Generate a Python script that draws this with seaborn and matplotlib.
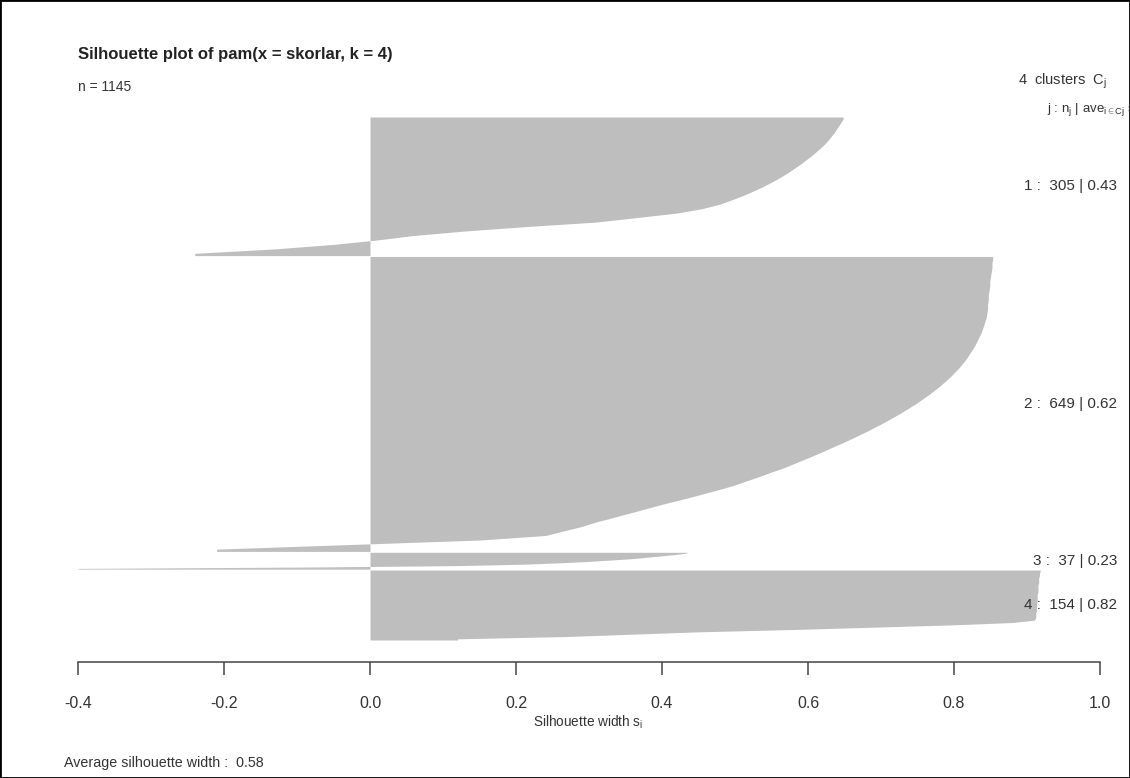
import numpy as np
import pandas as pd
import matplotlib
matplotlib.use("Agg")
import matplotlib.pyplot as plt
import matplotlib.transforms as mtransforms
from matplotlib.patches import Rectangle
import seaborn as sns

W, H = 1130, 778

cluster_ids = [1, 2, 3, 4]
cluster_sizes = [305, 649, 37, 154]
cluster_avg = [0.43, 0.62, 0.23, 0.82]
n_obs = 1145
avg_width = 0.58
x_ticks = [-0.4, -0.2, 0.0, 0.2, 0.4, 0.6, 0.8, 1.0]

c1_sil = [0.648, 0.644, 0.640, 0.636, 0.631, 0.626, 0.620, 0.613, 0.606, 0.598,
          0.590, 0.581, 0.572, 0.562, 0.551, 0.539, 0.526, 0.512, 0.496, 0.479,
          0.455, 0.420, 0.365, 0.310, 0.215, 0.130, 0.060, 0.010, -0.050, -0.130,
          -0.240]
c2_sil = [0.853, 0.852, 0.852, 0.851, 0.850, 0.849, 0.849, 0.848, 0.847, 0.847,
          0.846, 0.846, 0.845, 0.844, 0.842, 0.840, 0.838, 0.835, 0.832, 0.829,
          0.825, 0.821, 0.817, 0.812, 0.807, 0.801, 0.795, 0.788, 0.781, 0.773,
          0.765, 0.756, 0.747, 0.737, 0.727, 0.716, 0.705, 0.693, 0.681, 0.668,
          0.655, 0.641, 0.627, 0.613, 0.598, 0.583, 0.568, 0.550, 0.533, 0.515,
          0.497, 0.475, 0.452, 0.428, 0.403, 0.380, 0.357, 0.334, 0.310, 0.290,
          0.265, 0.240, 0.150, -0.030, -0.210]
c3_sil = [0.434, 0.420, 0.400, 0.380, 0.360, 0.330, 0.300, 0.260, 0.210, 0.120,
          -0.080, -0.400]
c4_sil = [0.918, 0.917, 0.917, 0.916, 0.916, 0.916, 0.915, 0.915, 0.915, 0.915,
          0.914, 0.914, 0.914, 0.914, 0.913, 0.913, 0.913, 0.913, 0.912, 0.912,
          0.912, 0.910, 0.880, 0.800, 0.690, 0.580, 0.450, 0.360, 0.270, 0.120]

sns.set_theme(style="white")
plt.rcParams["font.family"] = ["Liberation Sans", "DejaVu Sans"]
plt.rcParams["mathtext.fontset"] = "custom"
plt.rcParams["mathtext.rm"] = "Liberation Sans"
plt.rcParams["mathtext.it"] = "Liberation Sans:italic"

GAP = 2
rows = []
spans = []
pos = 0.0
for cid, size, sil in zip(cluster_ids, cluster_sizes, [c1_sil, c2_sil, c3_sil, c4_sil]):
    step = size / len(sil)
    for k, s in enumerate(sil):
        rows.append({"cluster": cid, "y": pos + (k + 0.5) * step, "s": s})
    spans.append((pos, pos + size))
    pos += size + GAP
total = pos - GAP
df = pd.DataFrame(rows)

fig = plt.figure(figsize=(W / 100, H / 100), dpi=100)
ax = fig.add_axes([78 / W, 1 - 640 / H, (1100 - 78) / W, (640 - 117) / H])

bar_grey = "#bebebe"
for (cid, grp), (y0, y1) in zip(df.groupby("cluster", sort=True), spans):
    yy = np.concatenate([[y0], grp["y"].to_numpy(), [y1]])
    ss = np.concatenate([[grp["s"].iloc[0]], grp["s"].to_numpy(), [grp["s"].iloc[-1]]])
    ax.fill_betweenx(yy, 0, ss, color=bar_grey, linewidth=0)
ax.set_xlim(-0.4, 1.0)
ax.set_ylim(total, 0)

for side in ["left", "right", "top"]:
    ax.spines[side].set_visible(False)
ax.spines["bottom"].set_position(("outward", 16))
ax.spines["bottom"].set_bounds(-0.4, 1.0)
ax.spines["bottom"].set_color("#444444")
ax.spines["bottom"].set_linewidth(1.1)
ax.set_yticks([])
ax.set_xticks(x_ticks)
ax.set_xticklabels([f"{t:.1f}" for t in x_ticks])
ax.tick_params(axis="x", direction="out", length=9, width=1.1, color="#444444",
               pad=15, labelsize=11.5, labelcolor="#333333", bottom=True)
ax.set_facecolor("white")

txt = "#333333"
fig.text(78 / W, 1 - 55 / H, "Silhouette plot of pam(x = skorlar, k = 4)",
         fontsize=12, fontweight="bold", va="center", ha="left", color="#222222")
fig.text(78 / W, 1 - 87 / H, f"n = {n_obs}", fontsize=10, va="center", ha="left", color=txt)
fig.text(1018 / W, 1 - 81 / H, r"4  clusters  $\mathrm{C_j}$", fontsize=10.5,
         va="center", ha="left", color=txt)
fig.text(1047 / W, 1 - 110 / H, r"j : $\mathrm{n_j}$ | $\mathrm{ave_{i\in Cj}\ s_i}$",
         fontsize=9.5, va="center", ha="left", color=txt)

trans = mtransforms.blended_transform_factory(fig.transFigure, ax.transData)
for cid, size, a, (y0, y1) in zip(cluster_ids, cluster_sizes, cluster_avg, spans):
    ax.text(1117 / W, (y0 + y1) / 2, f"{cid} :  {size} | {a:.2f}", transform=trans,
            fontsize=11, ha="right", va="center", color=txt, clip_on=False)

fig.text(588 / W, 1 - 722 / H, r"Silhouette width $\mathrm{s_i}$", fontsize=9.8,
         ha="center", va="center", color=txt)
fig.text(64 / W, 1 - 763 / H, f"Average silhouette width :  {avg_width:.2f}",
         fontsize=10.3, ha="left", va="center", color=txt)

fig.patches.append(Rectangle((0, 0), 1, 1, transform=fig.transFigure, fill=False,
                             edgecolor="black", linewidth=2))

fig.savefig("out.png", dpi=100)
